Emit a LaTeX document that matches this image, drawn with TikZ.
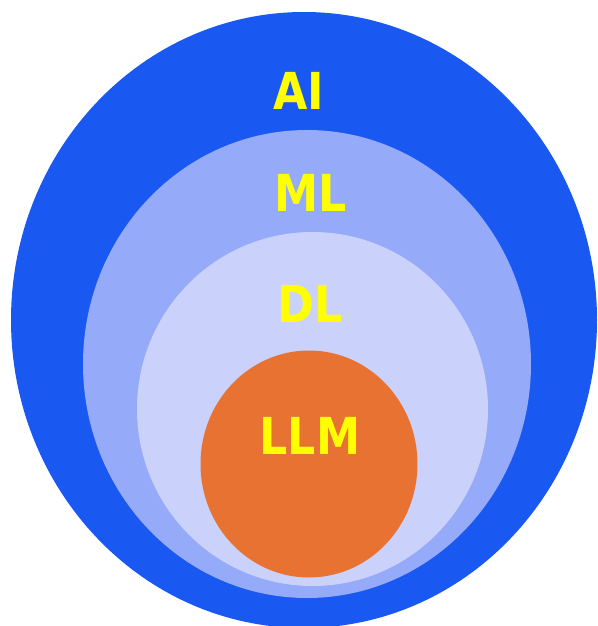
\documentclass[tikz,border=0pt]{standalone}
\usepackage{fontspec}
\usepackage{tikz}
\usetikzlibrary{positioning}
\newfontfamily\lblfont[FakeStretch=0.87]{DejaVu Sans Bold}

\definecolor{aiblue}{HTML}{1A58F2}
\definecolor{mlblue}{HTML}{95AAF8}
\definecolor{dlblue}{HTML}{CAD2FC}
\definecolor{llmorange}{HTML}{E87232}
\definecolor{lblyellow}{HTML}{FFFF00}

\tikzset{
  lbl/.style={text=lblyellow, inner sep=0pt, font=\lblfont\fontsize{29}{32}\selectfont}
}

\begin{document}
\begin{tikzpicture}

        \useasboundingbox (0,0) rectangle (11.94,-12.52);

        % nested sets
        \fill[aiblue] (6.08,-6.40) ellipse [x radius=5.86, y radius=6.16];
        \fill[mlblue] (6.14,-7.28) ellipse [x radius=4.48, y radius=4.68];
        \fill[dlblue] (6.25,-8.18) ellipse [x radius=3.51, y radius=3.54];
        \fill[llmorange] (6.18,-9.28) ellipse [x radius=2.17, y radius=2.27];

        % labels
        \node[lbl] (ai) at (5.98,-1.81) {AI};
        \node[lbl] (ml) at (6.21,-3.85) {ML};
        \node[lbl] (dl) at (6.20,-6.08) {DL};
        \node[lbl] (llm) at (6.20,-8.71) {LLM};

\end{tikzpicture}
\end{document}
